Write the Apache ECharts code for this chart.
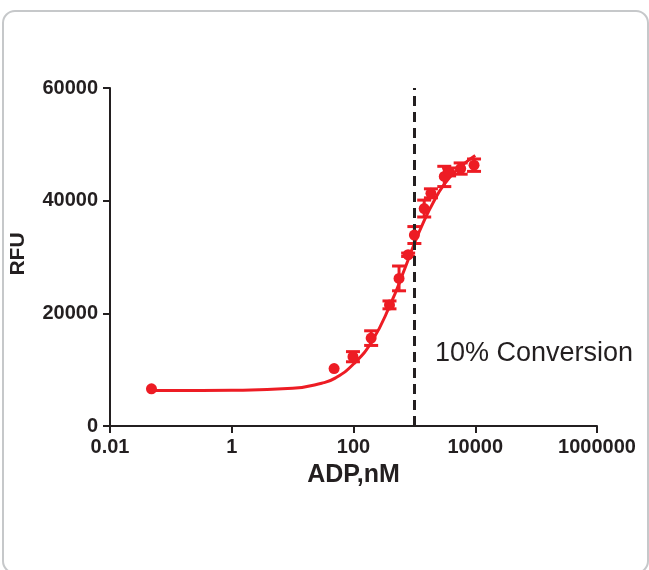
<!DOCTYPE html>
<html>
<head>
<meta charset="utf-8">
<script src="https://cdn.jsdelivr.net/npm/echarts@6/dist/echarts.min.js"></script>
<style>
html, body { margin: 0; padding: 0; background: #fff; }
#main { width: 649px; height: 570px; }
</style>
</head>
<body>
<div id="main"></div>
<script>
// measured points: ADP (nM), RFU, error (+/-)
var adp = [0.048, 48, 98, 195, 390, 560, 790, 1000, 1450, 1870, 3100, 3720, 5760, 9550];
var rfu = [6600, 10200, 12300, 15600, 21500, 26200, 30400, 33900, 38600, 41300, 44300, 45100, 45700, 46300];
var err = [0, 0, 900, 1300, 700, 2200, 300, 1500, 1500, 800, 1800, 700, 1000, 1100];

// fitted curve
var fitX = [0.048, 0.1, 1, 10, 30, 50, 100, 200, 400, 700, 1000, 1500, 2000, 3000, 5000, 7000, 10000];
var fitY = [6300, 6300, 6350, 6700, 7600, 8500, 11000, 15000, 21500, 28000, 32400, 36800, 39500, 42700, 45500, 46800, 48000];

var xTickLabels = ['0.01', '1', '100', '10000', '1000000'];
var yTicks = [0, 20000, 40000, 60000];
var cutoff = 1000; // 10% conversion

var red = '#ed1c24';
var ink = '#231f20';
var tickFont = 'Liberation Sans';

var points = [];
var bars = [];
for (var i = 0; i < adp.length; i++) {
    points.push([adp[i], rfu[i]]);
    if (err[i] > 0) bars.push([adp[i], rfu[i], err[i]]);
}
var fit = [];
for (var j = 0; j < fitX.length; j++) fit.push([fitX[j], fitY[j]]);

var option = {
    animation: false,
    grid: { left: 108, right: 52, top: 88, bottom: 144 },
    xAxis: {
        type: 'log',
        logBase: 100,
        min: 0.01,
        max: 1000000,
        name: 'ADP,nM',
        nameLocation: 'middle',
        nameGap: 37,
        nameTextStyle: { fontFamily: tickFont, fontWeight: 'bold', fontSize: 25, color: ink },
        axisLine: { lineStyle: { color: ink, width: 2 } },
        axisTick: { length: 7, lineStyle: { color: ink, width: 2 } },
        minorTick: { show: false },
        splitLine: { show: false },
        axisLabel: {
            margin: 11,
            fontFamily: tickFont, fontWeight: 'bold', fontSize: 20, color: ink,
            formatter: function (v, idx) { return xTickLabels[idx]; }
        }
    },
    yAxis: {
        type: 'value',
        min: 0,
        max: 60000,
        interval: 20000,
        name: 'RFU',
        nameLocation: 'middle',
        nameGap: 81,
        nameRotate: 90,
        nameTextStyle: { fontFamily: tickFont, fontWeight: 'bold', fontSize: 21, color: ink, padding: [0, 0, 0, 6] },
        axisLine: { show: true, lineStyle: { color: ink, width: 2 } },
        axisTick: { show: true, length: 7, lineStyle: { color: ink, width: 2 } },
        splitLine: { show: false },
        axisLabel: {
            margin: 12,
            fontFamily: tickFont, fontWeight: 'bold', fontSize: 20, color: ink,
            formatter: function (v) { return yTicks.indexOf(v) >= 0 ? String(v) : ''; }
        }
    },
    graphic: [
        {
            type: 'rect',
            shape: { x: 3, y: 11, width: 645, height: 562, r: 12 },
            style: { fill: 'none', stroke: '#c6c8ca', lineWidth: 2 },
            z: -1
        },
        {
            type: 'text',
            x: 435, y: 354,
            style: {
                text: '10% Conversion', font: '27px "Liberation Sans"', fill: ink,
                verticalAlign: 'middle'
            }
        }
    ],
    series: [
        {
            type: 'line',
            data: fit,
            smooth: true,
            showSymbol: false,
            lineStyle: { color: red, width: 3 },
            z: 3,
            markLine: {
                silent: true,
                symbol: 'none',
                label: { show: false },
                lineStyle: { color: ink, width: 3, type: [10, 6] },
                data: [{ xAxis: cutoff }]
            }
        },
        {
            type: 'custom',
            data: bars,
            z: 4,
            renderItem: function (params, api) {
                var x = api.value(0), y = api.value(1), e = api.value(2);
                var hi = api.coord([x, y + e]);
                var lo = api.coord([x, y - e]);
                var w = 7;
                var st = { stroke: red, lineWidth: 3 };
                return {
                    type: 'group',
                    children: [
                        { type: 'line', shape: { x1: hi[0], y1: hi[1], x2: lo[0], y2: lo[1] }, style: st },
                        { type: 'line', shape: { x1: hi[0] - w, y1: hi[1], x2: hi[0] + w, y2: hi[1] }, style: st },
                        { type: 'line', shape: { x1: lo[0] - w, y1: lo[1], x2: lo[0] + w, y2: lo[1] }, style: st }
                    ]
                };
            }
        },
        {
            type: 'scatter',
            data: points,
            symbol: 'circle',
            symbolSize: 11,
            itemStyle: { color: red, opacity: 1 },
            z: 5
        }
    ]
};

var myChart = echarts.init(document.getElementById('main'));
myChart.setOption(option);
</script>
</body>
</html>
